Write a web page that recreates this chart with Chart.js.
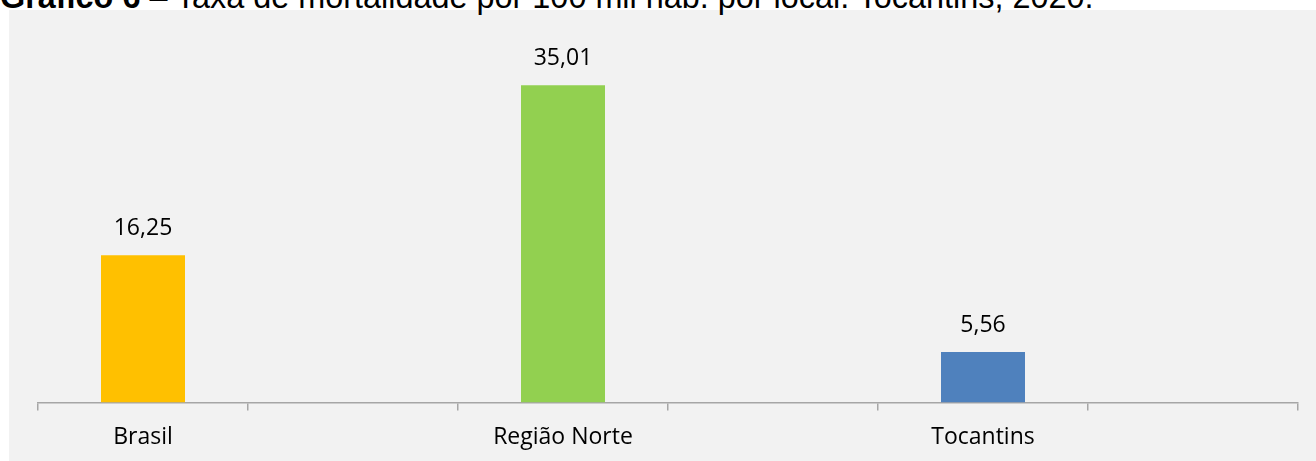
<!DOCTYPE html>
<html>
<head>
<meta charset="utf-8">
<script src="https://cdn.jsdelivr.net/npm/chart.js@4"></script>
<style>
  html, body { margin: 0; padding: 0; background: #ffffff; overflow: hidden; }
  #panel { position: absolute; left: 9px; top: 10px; width: 1307px; height: 451px; background: #f2f2f2; }
  #title { position: absolute; left: 0px; top: -19px; font-family: "Liberation Sans", Arial, sans-serif; font-size: 32.4px; line-height: 32px; white-space: nowrap; color: #000; }
  #chartBox { position: absolute; left: 0; top: 0; width: 1316px; height: 464px; }
</style>
</head>
<body>
<div id="panel"></div>
<div id="title"><b>Gráfico 6</b> – Taxa de mortalidade por 100 mil hab. por local. Tocantins, 2020.</div>
<div id="chartBox"><canvas id="chart"></canvas></div>
<script>
// Data
const categories = ["Brasil", "", "Região Norte", "", "Tocantins", ""];
const values = [16.25, null, 35.01, null, 5.56, null];
const barColors = ["#ffc000", "#ffc000", "#92d050", "#92d050", "#4f81bd", "#4f81bd"];

const LABEL_FONT = "'Open Sans', 'Noto Sans', sans-serif";

// Draws the value above each bar, comma decimals like the original
const valueLabels = {
  id: "valueLabels",
  afterDatasetsDraw(chart) {
    const { ctx } = chart;
    const meta = chart.getDatasetMeta(0);
    ctx.save();
    ctx.font = "23px " + LABEL_FONT;
    ctx.fillStyle = "#000";
    ctx.textAlign = "center";
    ctx.textBaseline = "middle";
    meta.data.forEach((bar, i) => {
      const v = values[i];
      if (v == null) return;
      ctx.fillText(v.toFixed(2).replace(".", ","), bar.x, bar.y - 27);
    });
    ctx.restore();
  },
};

new Chart(document.getElementById("chart"), {
  type: "bar",
  data: {
    labels: categories,
    datasets: [
      {
        data: values,
        backgroundColor: barColors,
        barPercentage: 0.4,
        categoryPercentage: 1,
      },
    ],
  },
  options: {
    responsive: true,
    maintainAspectRatio: false,
    animation: false,
    layout: { padding: { left: 38, right: 18, top: 40, bottom: 0 } },
    plugins: {
      legend: { display: false },
      tooltip: { enabled: false },
    },
    scales: {
      x: {
        offset: true,
        grid: {
          offset: true,
          drawOnChartArea: false,
          tickLength: 8,
          color: "#a6a6a6",
          lineWidth: 1.5,
        },
        border: { color: "#a6a6a6", width: 1.5 },
        ticks: {
          color: "#000",
          font: { family: LABEL_FONT, size: 23 },
          padding: 13,
          maxRotation: 0,
          autoSkip: false,
        },
      },
      y: {
        display: false,
        min: 0,
        max: 40,
      },
    },
  },
  plugins: [valueLabels],
});
</script>
</body>
</html>
